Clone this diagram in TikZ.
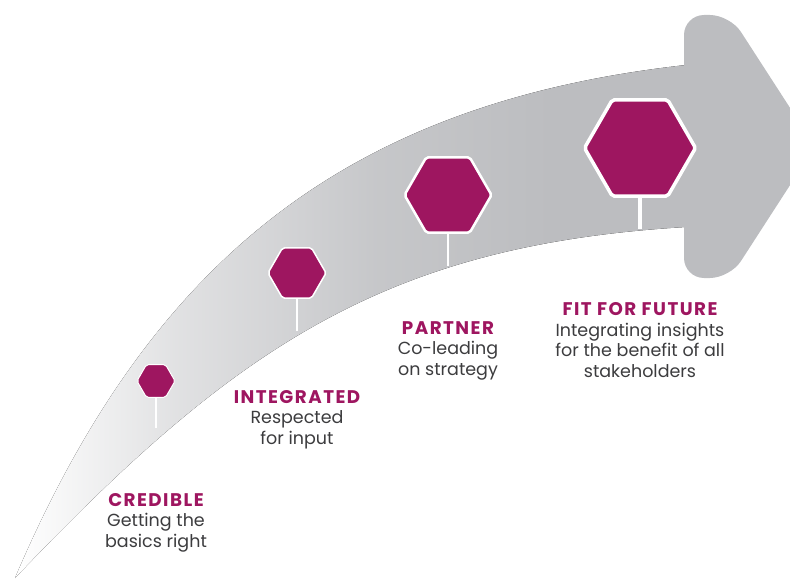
\documentclass[tikz,border=0pt]{standalone}
\usepackage{fontspec}
\setmainfont{Poppins}
\newfontfamily\titlefont[LetterSpace=8]{Poppins}
\usepackage{xcolor}
\usepackage{tikz}
\usetikzlibrary{shapes.geometric}
\definecolor{plum}{HTML}{9E1660}
\definecolor{arrowgray}{HTML}{BCBDC0}
\definecolor{textgray}{HTML}{3C3C3E}
\pgfdeclarehorizontalshading{bodyfade}{100bp}{color(0bp)=(white); color(25bp)=(white); color(37bp)=(arrowgray!45!white); color(52bp)=(arrowgray!85!white); color(65bp)=(arrowgray); color(100bp)=(arrowgray)}
\tikzstyle{hexa}=[regular polygon, regular polygon sides=6, fill=plum, draw=white, inner sep=0pt, rounded corners=2pt]
\tikzstyle{stem}=[draw=white]
\tikzstyle{stage}=[align=center, anchor=base, inner sep=0pt, text=textgray, font=\fontsize{17.5}{20.5}\selectfont]
\newcommand{\stagetitle}[1]{\textcolor{plum}{\titlefont\bfseries\fontsize{18.3}{20.5}\selectfont #1}}

\begin{document}
\begin{tikzpicture}[x=1pt,y=-1pt]
  \useasboundingbox (0,0) rectangle (790,583);
  \clip (0,0) rectangle (790,583);
  % arrow body and head
  \fill[shading=bodyfade] (15,578) .. controls (150,262) and (345,103) .. (686,65) -- (686,227) .. controls (385,245) and (235,347) .. (15,578) -- cycle;
  \fill[arrowgray] (684,70) [rounded corners=20pt] -- (684,15) -- (730,15) [rounded corners=0pt] -- (815,146.5) [rounded corners=20pt] -- (730,278) -- (684,278) [rounded corners=0pt] -- (684,222) -- cycle;

  \coordinate (s1) at (156,428);
  \coordinate (s2) at (297,331);
  \coordinate (s3) at (448,266);
  \coordinate (s4) at (640,229);

  \node[hexa, minimum size=38pt, line width=1pt] (credible) at (156,381) {};
  \node[hexa, minimum size=58pt, line width=1.5pt] (integrated) at (297,273) {};
  \node[hexa, minimum size=87pt, line width=2.5pt] (partner) at (448,195) {};
  \node[hexa, minimum size=111pt, line width=3.5pt] (future) at (640,148) {};

  \draw[stem, line width=1.2pt] (credible.south) -- (s1);
  \draw[stem, line width=1.8pt] (integrated.south) -- (s2);
  \draw[stem, line width=2.8pt] (partner.south) -- (s3);
  \draw[stem, line width=3.8pt] (future.south) -- (s4);

  % labels, placed at the baseline of their last line
  \node[stage] (crediblelabel) at (156,547) {\stagetitle{CREDIBLE}\\Getting the\\basics right};
  \node[stage] (integratedlabel) at (297,444) {\stagetitle{INTEGRATED}\\Respected\\for input};
  \node[stage] (partnerlabel) at (448,375) {\stagetitle{PARTNER}\\Co-leading\\on strategy};
  \node[stage] (futurelabel) at (640,377) {\stagetitle{FIT FOR FUTURE}\\Integrating insights\\for the benefit of all\\stakeholders};
\end{tikzpicture}
\end{document}
